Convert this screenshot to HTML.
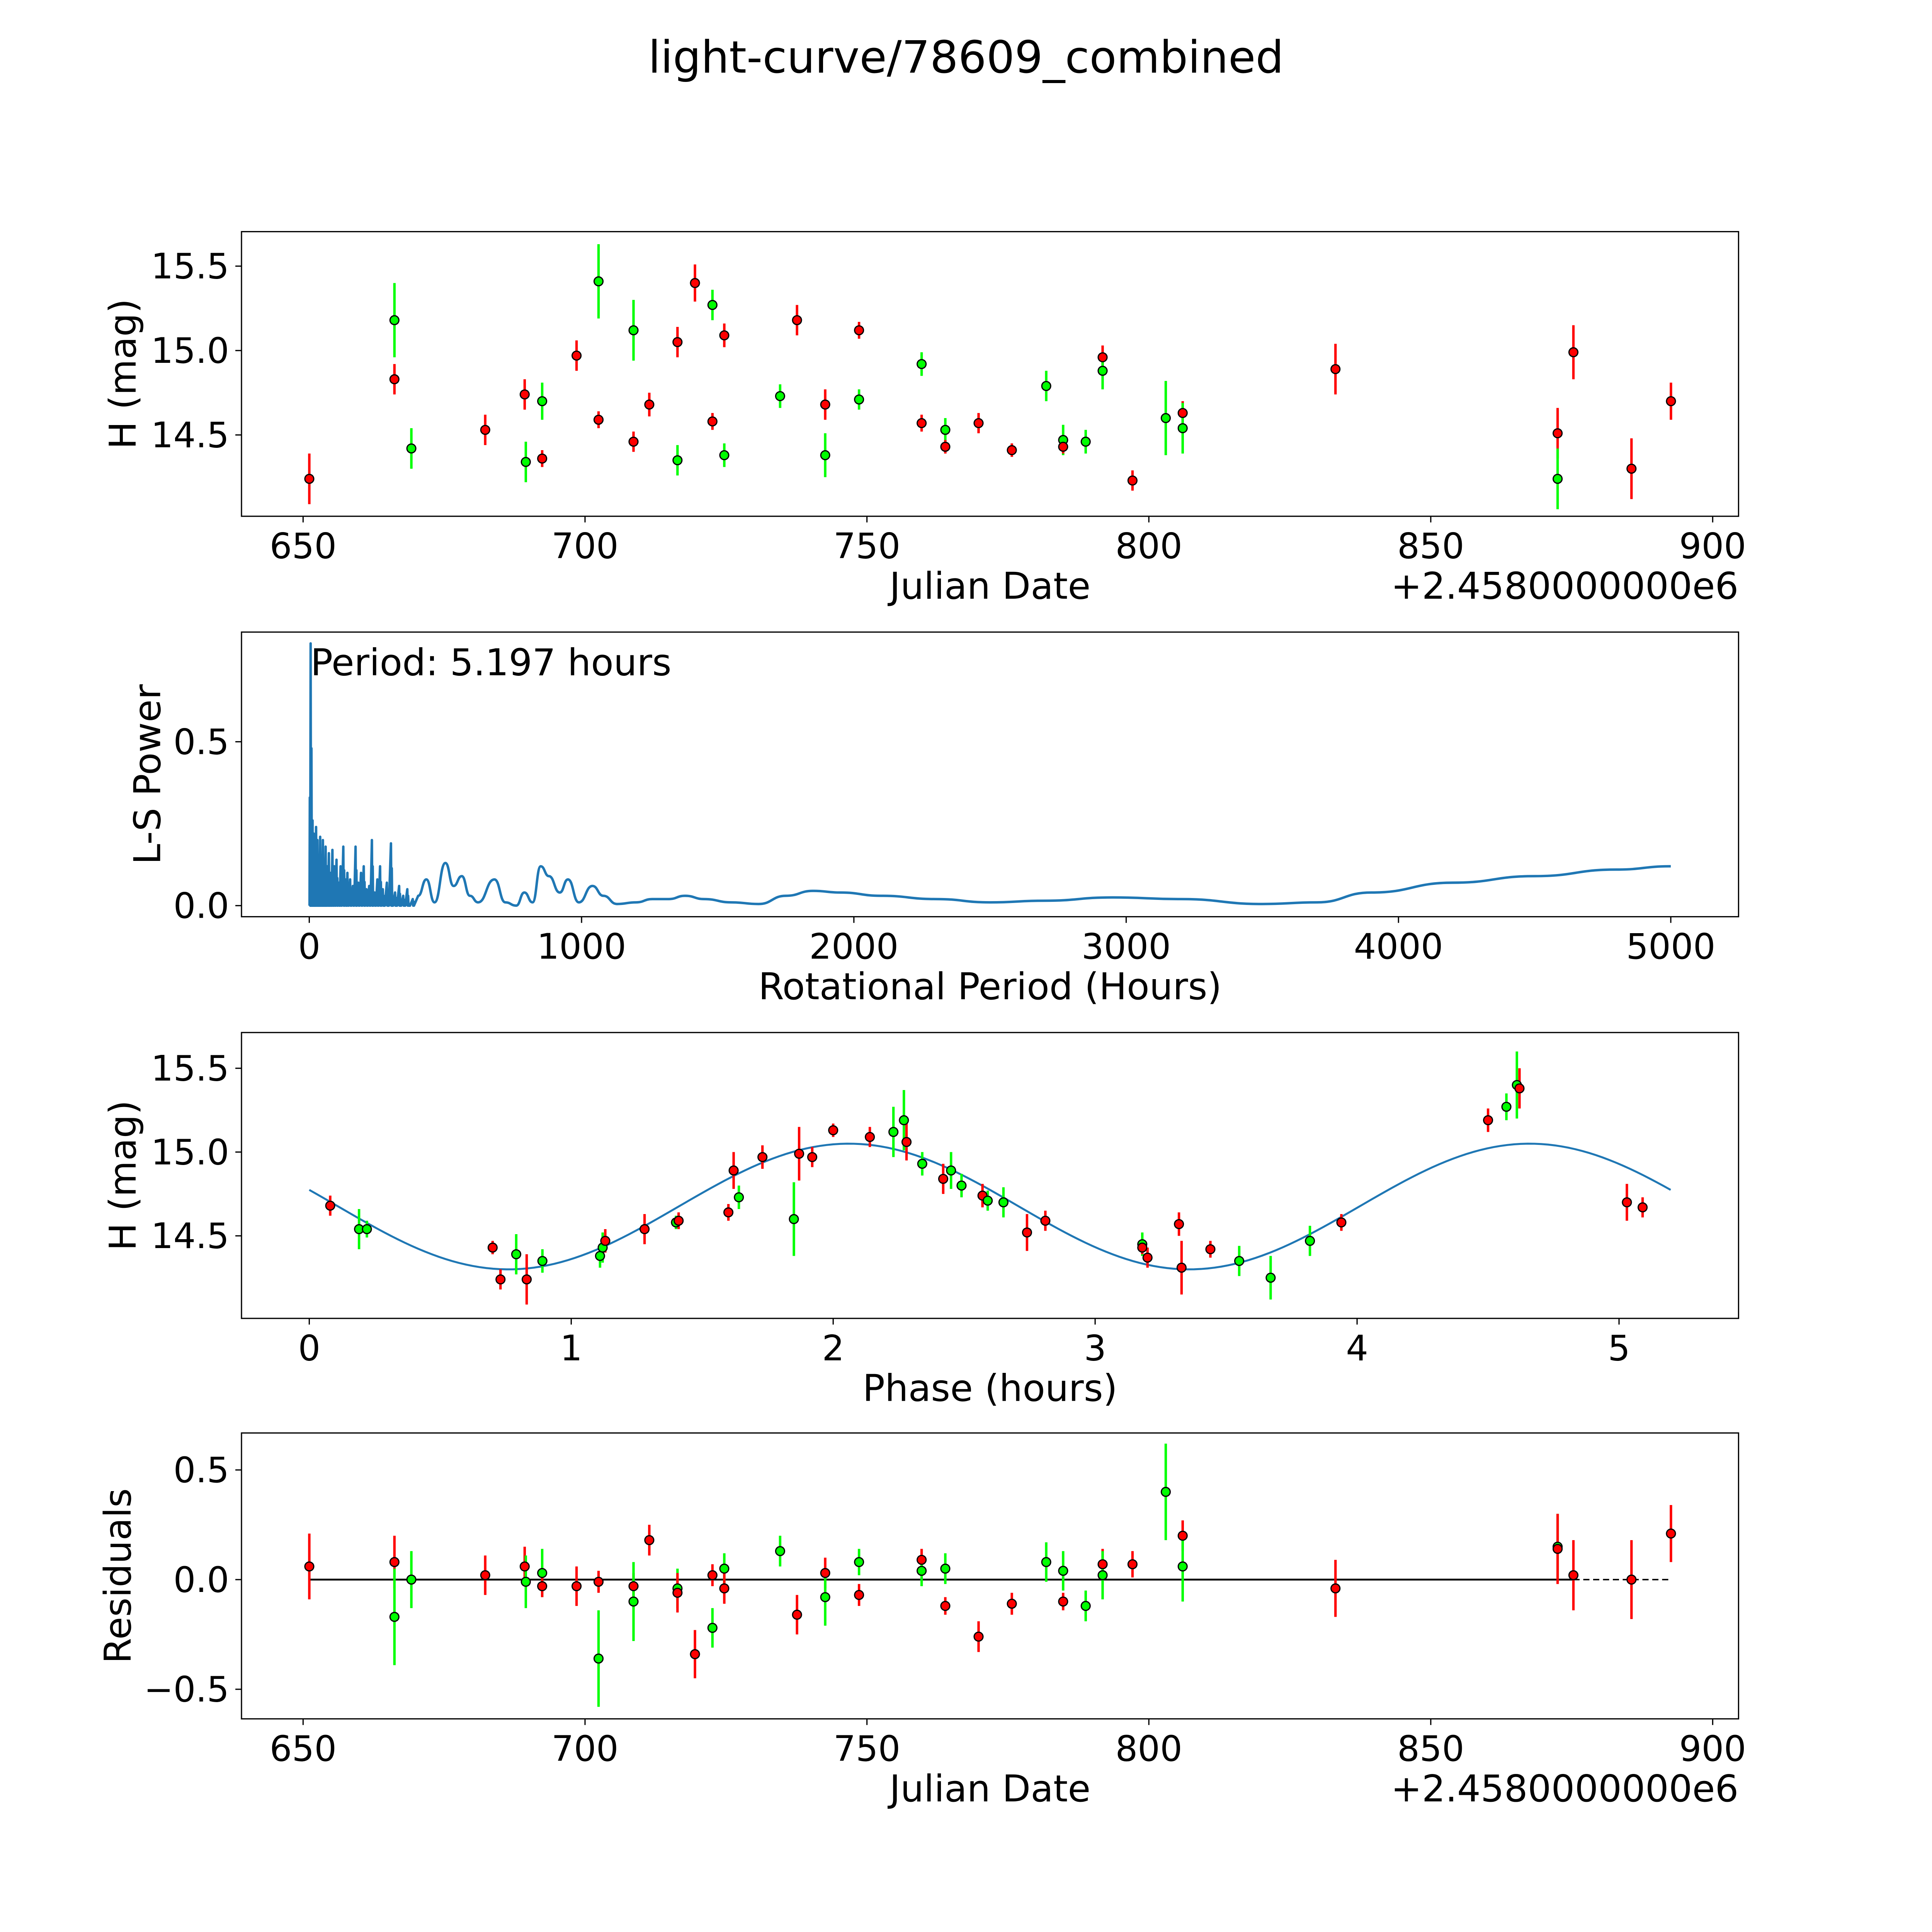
<!DOCTYPE html>
<html><head><meta charset="utf-8"><style>
html,body{margin:0;padding:0;background:#fff;overflow:hidden;width:100vw;height:100vh;}
svg{display:block;width:100vw;height:100vh;font-family:"DejaVu Sans","Liberation Sans",sans-serif;}
</style></head><body>
<svg id="fig" xmlns="http://www.w3.org/2000/svg" viewBox="0 0 1568 1568" preserveAspectRatio="none">
<rect width="1568" height="1568" fill="#fff"/>
<text x="784" y="59" font-size="36" text-anchor="middle">light-curve/78609_combined</text>
</svg>
<script>
// Panel 1: light curve
const jd=[651.1,666.2,666.2,669.2,682.3,689.3,689.5,692.4,692.4,698.5,702.4,702.4,708.6,708.6,711.4,716.4,716.4,719.5,722.6,722.6,724.7,724.7,734.6,737.6,742.6,742.6,748.6,748.6,759.7,759.7,763.9,763.9,769.8,775.7,781.8,784.8,784.8,788.8,791.8,791.8,797.1,803,806,806,833.1,872.5,872.5,875.3,885.6,892.6];
const mag=[14.24,14.83,15.18,14.42,14.53,14.74,14.34,14.36,14.70,14.97,15.41,14.59,15.12,14.46,14.68,15.05,14.35,15.40,15.27,14.58,15.09,14.38,14.73,15.18,14.68,14.38,15.12,14.71,14.92,14.57,14.53,14.43,14.57,14.41,14.79,14.47,14.43,14.46,14.96,14.88,14.23,14.60,14.63,14.54,14.89,14.51,14.24,14.99,14.30,14.70];
const magErr=[0.15,0.09,0.22,0.12,0.09,0.09,0.12,0.05,0.11,0.09,0.22,0.05,0.18,0.06,0.07,0.09,0.09,0.11,0.09,0.05,0.07,0.07,0.07,0.09,0.09,0.13,0.05,0.06,0.07,0.05,0.07,0.04,0.06,0.04,0.09,0.09,0.04,0.07,0.07,0.11,0.06,0.22,0.07,0.15,0.15,0.15,0.18,0.16,0.18,0.11];
const magCol=['r','r','g','g','r','r','g','r','g','r','g','r','g','r','r','r','g','r','g','r','r','g','g','r','r','g','r','g','g','r','g','r','r','r','g','g','r','g','r','g','r','g','r','g','r','r','g','r','r','r'];
// Panel 2: periodogram
const spikeP=[2,5,8,12,16,20,25,30,35,40,45,50,55,60,66,72,78,85,92,100,108,115,125,133,140,150,160,170,180,190,200,210,220,230,240,250,260,270,285,300,315,330,345,360,380];
const spikePow=[0.33,0.80,0.25,0.26,0.22,0.18,0.24,0.2,0.15,0.21,0.12,0.2,0.1,0.18,0.12,0.16,0.1,0.17,0.12,0.14,0.07,0.12,0.18,0.08,0.1,0.08,0.06,0.18,0.07,0.1,0.12,0.05,0.06,0.2,0.04,0.08,0.12,0.05,0.07,0.19,0.04,0.06,0.03,0.05,0.02];
const smoothP=[400,430,460,500,530,560,590,620,680,720,760,790,820,850,880,920,950,990,1040,1080,1130,1200,1260,1320,1380,1450,1550,1650,1750,1850,1950,2100,2300,2500,2700,2950,3200,3500,3700,3900,4200,4500,4800,5000];
const smoothPow=[0.03,0.08,0.01,0.13,0.06,0.09,0.03,0.01,0.08,0.01,0.0,0.04,0.01,0.12,0.09,0.04,0.08,0.01,0.06,0.03,0.005,0.01,0.02,0.02,0.03,0.02,0.01,0.005,0.03,0.045,0.04,0.03,0.02,0.01,0.015,0.025,0.02,0.005,0.01,0.04,0.07,0.09,0.11,0.12];
// Panel 3: phased
const ph=[0.08,0.19,0.22,0.70,0.73,0.79,0.83,0.89,1.11,1.12,1.13,1.28,1.40,1.41,1.60,1.62,1.64,1.73,1.85,1.87,1.92,2.00,2.14,2.23,2.27,2.28,2.34,2.42,2.45,2.49,2.57,2.59,2.65,2.74,2.81,3.18,3.18,3.20,3.32,3.33,3.44,3.55,3.67,3.82,3.94,4.50,4.57,4.61,4.62,5.03,5.09];
const phMag=[14.68,14.54,14.54,14.43,14.24,14.39,14.24,14.35,14.38,14.43,14.47,14.54,14.58,14.59,14.64,14.89,14.73,14.97,14.60,14.99,14.97,15.13,15.09,15.12,15.19,15.06,14.93,14.84,14.89,14.80,14.74,14.71,14.70,14.52,14.59,14.45,14.43,14.37,14.57,14.31,14.42,14.35,14.25,14.47,14.58,15.19,15.27,15.40,15.38,14.70,14.67];
const phErr=[0.06,0.12,0.05,0.04,0.06,0.12,0.15,0.07,0.07,0.09,0.07,0.09,0.04,0.05,0.05,0.11,0.07,0.07,0.22,0.16,0.06,0.04,0.06,0.15,0.18,0.11,0.07,0.09,0.11,0.07,0.07,0.06,0.09,0.11,0.06,0.07,0.04,0.06,0.07,0.16,0.05,0.09,0.13,0.09,0.05,0.07,0.08,0.20,0.12,0.11,0.06];
const phCol=['r','g','g','r','r','g','r','g','g','g','r','r','g','r','r','r','g','r','g','r','r','r','r','g','g','r','g','r','g','g','r','g','g','r','r','g','r','r','r','r','r','g','g','g','r','r','g','g','r','r','r'];
const fitMean=14.675, fitAmp=0.375, fitPeriod=2.5985, fitT0=1.41, phaseMax=5.197;
// Panel 4: residuals
const resJd=[651.1,666.2,666.2,669.2,682.3,689.3,689.5,692.4,692.4,698.5,702.4,702.4,708.6,708.6,711.4,716.4,716.4,719.5,722.6,722.6,724.7,724.7,734.6,737.6,742.6,742.6,748.6,748.6,759.7,759.7,763.9,763.9,769.8,775.7,781.8,784.8,784.8,788.8,791.8,791.8,797.1,803,806,806,833.1,872.5,872.5,875.3,885.6,892.6];
const res=[0.06,0.08,-0.17,0.0,0.02,0.06,-0.01,0.03,-0.03,-0.03,-0.01,-0.36,-0.03,-0.10,0.18,-0.04,-0.06,-0.34,0.02,-0.22,0.05,-0.04,0.13,-0.16,0.03,-0.08,0.08,-0.07,0.09,0.04,0.05,-0.12,-0.26,-0.11,0.08,0.04,-0.10,-0.12,0.07,0.02,0.07,0.40,0.20,0.06,-0.04,0.15,0.14,0.02,0.0,0.21];
const resErr=[0.15,0.12,0.22,0.13,0.09,0.09,0.12,0.11,0.05,0.09,0.05,0.22,0.06,0.18,0.07,0.09,0.09,0.11,0.05,0.09,0.07,0.07,0.07,0.09,0.07,0.13,0.06,0.05,0.05,0.07,0.07,0.04,0.07,0.05,0.09,0.09,0.04,0.07,0.07,0.11,0.06,0.22,0.07,0.16,0.13,0.15,0.16,0.16,0.18,0.13];
const resCol=['r','r','g','g','r','r','g','g','r','r','r','g','r','g','r','g','r','r','r','g','g','r','g','r','r','g','g','r','r','g','g','r','r','r','g','g','r','g','r','g','r','g','r','g','r','g','r','r','r','r'];

const NS='http://www.w3.org/2000/svg';
const svg=document.getElementById('fig');
function el(tag,attrs,parent,txt){const e=document.createElementNS(NS,tag);for(const k in attrs)e.setAttribute(k,attrs[k]);if(txt!==undefined)e.textContent=txt;(parent||svg).appendChild(e);return e;}
const COL={r:'#ff0000',g:'#00ff00'};
const L=196,R=1411;
function lin(d0,d1,p0,p1){return v=>p0+(v-d0)*(p1-p0)/(d1-d0);}

function frame(name,top,bot,xs,ys,xt,yt,xlab,ylab,ylabX,off){
  const g=el('g',{},svg);
  
  
  for(const t of xt){const x=xs(t);
    const tk=el('line',{x1:x,x2:x,y1:bot,y2:bot+5,stroke:'#000','stroke-width':1},g);
    
    const lb=el('text',{x:x,y:bot+34,'font-size':28.5,'text-anchor':'middle'},g,String(t));
    }
  for(const t of yt){const y=ys(t);
    const tk=el('line',{x1:L-5,x2:L,y1:y,y2:y,stroke:'#000','stroke-width':1},g);
    
    const lb=el('text',{x:L-10,y:y+10,'font-size':28.5,'text-anchor':'end'},g,t.toFixed(1).replace('-','\u2212'));
    }
  const xl=el('text',{x:(L+R)/2,y:bot+67,'font-size':30,'text-anchor':'middle'},g,xlab);
  
  const yc=(top+bot)/2;
  const yl=el('text',{x:ylabX,y:yc,'font-size':30,'text-anchor':'middle',transform:`rotate(-90 ${ylabX} ${yc})`},g,ylab);
  
  if(off){const o=el('text',{x:R,y:bot+67,'font-size':30,'text-anchor':'end'},g,off);
    }
  return g;
}
function border(top,bot){const b=el('rect',{x:L,y:top,width:R-L,height:bot-top,fill:'none',stroke:'#000','stroke-width':1});
  }
function points(g,xsArr,ysArr,errArr,colArr,xs,ys,name){
  for(let i=0;i<xsArr.length;i++){const x=xs(xsArr[i]);
    const e=el('line',{x1:x,x2:x,y1:ys(ysArr[i]-errArr[i]),y2:ys(ysArr[i]+errArr[i]),stroke:COL[colArr[i]],'stroke-width':2},g);
    }
  for(let i=0;i<xsArr.length;i++){
    const c=el('circle',{cx:xs(xsArr[i]),cy:ys(ysArr[i]),r:3.6,fill:COL[colArr[i]],stroke:'#000','stroke-width':1},g);
    }
}

// Panel 1
{const top=188,bot=419;const xs=lin(650,900,246,1390),ys=lin(15.5,14.5,216,353);
 const g=frame('light-curve-panel',top,bot,xs,ys,[650,700,750,800,850,900],[14.5,15.0,15.5],'Julian Date','H (mag)',110,'+2.4580000000e6');
 points(g,jd,mag,magErr,magCol,xs,ys,'data-point');border(top,bot);}
// Panel 2
{const top=513,bot=744;const xs=lin(0,5000,251,1356),ys=lin(0,0.5,735,602);
 const g=frame('periodogram-panel',top,bot,xs,ys,[0,1000,2000,3000,4000,5000],[0.0,0.5],'Rotational Period (Hours)','L-S Power',130);
 let d=`M${xs(1)},${ys(0)}`;
 for(let i=0;i<spikeP.length;i++){const p0=i?spikeP[i-1]:0;const mid=(p0+spikeP[i])/2;
   d+=` L${xs(mid)},${ys(0)} L${xs(spikeP[i])},${ys(spikePow[i])}`;
   d+=` L${xs(spikeP[i]+1.5)},${ys(0)} L${xs(spikeP[i]+3)},${ys(spikePow[i]*0.6)} L${xs(spikeP[i]+4.5)},${ys(0)}`;}
 const sx=smoothP.map(xs),sy=smoothPow.map(ys);
 for(let i=0;i<sx.length;i++){
   if(i>0){const cx=(sx[i-1]+sx[i])/2;d+=` C${cx},${sy[i-1]} ${cx},${sy[i]} ${sx[i]},${sy[i]}`;}
   else d+=` L${sx[0]},${sy[0]}`;}
 const p=el('path',{d:d,fill:'none',stroke:'#1f77b4','stroke-width':2,'stroke-linejoin':'round'},g);
 
 const t=el('text',{x:252,y:548,'font-size':30},g,'Period: 5.197 hours');
 
 border(top,bot);}
// Panel 3
{const top=838,bot=1070;const xs=lin(0,5,251,1314),ys=lin(15.5,15.0,867,935);
 const g=frame('phase-panel',top,bot,xs,ys,[0,1,2,3,4,5],[14.5,15.0,15.5],'Phase (hours)','H (mag)',110);
 let d='';for(let k=0;k<=200;k++){const t=phaseMax*k/200;const v=fitMean+fitAmp*Math.sin(2*Math.PI*(t-fitT0)/fitPeriod);d+=(k?' L':'M')+xs(t)+','+ys(v);}
 const p=el('path',{d:d,fill:'none',stroke:'#1f77b4','stroke-width':1.6},g);
 
 points(g,ph,phMag,phErr,phCol,xs,ys,'phased-point');border(top,bot);}
// Panel 4
{const top=1163,bot=1395;const xs=lin(650,900,246,1390),ys=lin(0,0.5,1282,1193);
 const g=frame('residuals-panel',top,bot,xs,ys,[650,700,750,800,850,900],[-0.5,0.0,0.5],'Julian Date','Residuals',106,'+2.4580000000e6');
 const z1=el('line',{x1:xs(resJd[0]),x2:xs(875.3),y1:ys(0),y2:ys(0),stroke:'#000','stroke-width':1.5},g);
 
 const z2=el('line',{x1:xs(875.3),x2:xs(resJd[resJd.length-1]),y1:ys(0),y2:ys(0),stroke:'#000','stroke-width':1.2,'stroke-dasharray':'5 3'},g);
 
 points(g,resJd,res,resErr,resCol,xs,ys,'residual-point');border(top,bot);}
</script>
</body></html>
